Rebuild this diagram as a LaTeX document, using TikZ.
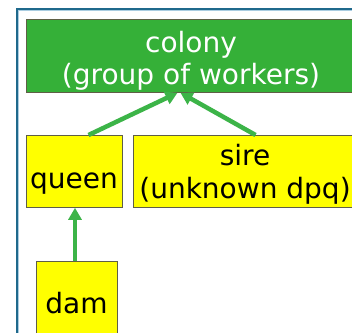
\documentclass[tikz,border=0pt]{standalone}
\usepackage{fontspec}
\setmainfont{DejaVu Sans}
\usetikzlibrary{arrows.meta,calc}
\definecolor{framecol}{RGB}{31,105,140}
\definecolor{framelight}{RGB}{170,205,225}
\definecolor{boxgreen}{RGB}{53,176,56}
\definecolor{arrowgreen}{RGB}{60,180,72}
\definecolor{boxyellow}{RGB}{255,255,0}
\definecolor{edgecol}{RGB}{95,95,70}
\begin{document}
\begin{tikzpicture}[x=1pt,y=-1pt,
  box/.style={draw=edgecol,line width=0.8pt,inner sep=0pt,anchor=north west},
  greenbox/.style={box,fill=boxgreen},
  yellowbox/.style={box,fill=boxyellow},
  lbl/.style={anchor=base,inner sep=0pt,font=\fontsize{28}{33}\selectfont},
  conn/.style={draw=arrowgreen,line width=4.5pt,-{Triangle[length=12pt,width=13pt]}}]
\useasboundingbox (0,0) rectangle (352,332);
\clip (0,0) rectangle (352,332);
\fill[white] (0,0) rectangle (352,332);
% frame
\draw[framelight,line width=1.2pt] (18.6,10.6) rectangle (420,420);
\draw[framecol,line width=2pt] (16.5,8.5) rectangle (420,420);
% boxes
\node[greenbox,minimum width=330pt,minimum height=73pt] (colony) at (26,19) {};
\node[yellowbox,minimum width=96pt,minimum height=72pt] (queen) at (26,135) {};
\node[yellowbox,minimum width=224pt,minimum height=72pt] (sire) at (133,135) {};
\node[yellowbox,minimum width=81pt,minimum height=140pt] (dam) at (36,261) {};
% texts
\node[lbl,text=white] (colonyA) at (191,52) {colony};
\node[lbl,text=white] (colonyB) at (191,84) {(group of workers)};
\node[lbl] (queenT) at (74,188) {queen};
\node[lbl] (sireA) at (245,165) {sire};
\node[lbl] (sireB) at (245,198) {(unknown dpq)};
\node[lbl] (damT) at (76.5,313) {dam};
% connectors
\draw[conn] ($(queen.north west)!0.646!(queen.north east)$) -- ($(colony.south west)!0.458!(colony.south east)$);
\draw[conn] ($(sire.north west)!0.545!(sire.north east)$) -- ($(colony.south west)!0.467!(colony.south east)$);
\draw[conn] (dam.north -| 75,0) -- (queen.south -| 75,0);
\end{tikzpicture}
\end{document}
